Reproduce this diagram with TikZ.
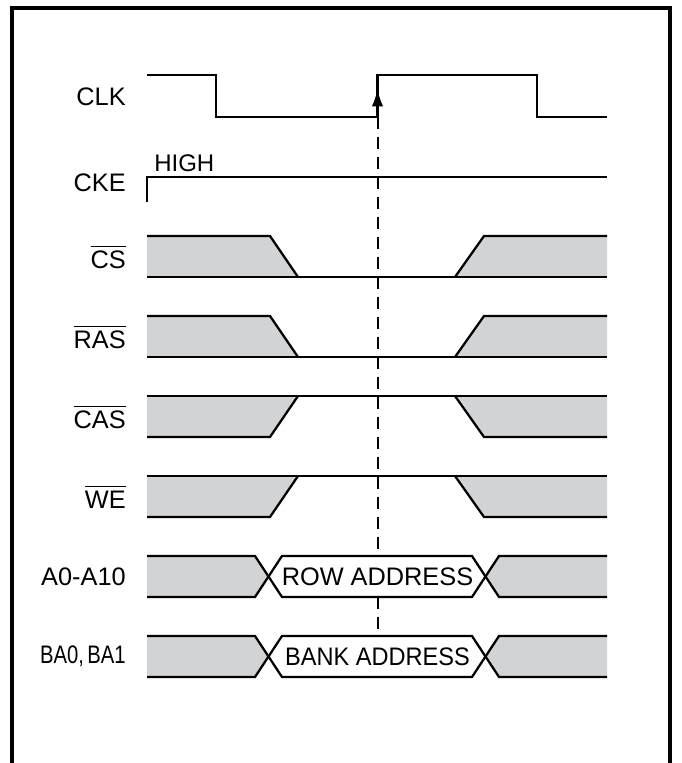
\documentclass[tikz,border=0pt]{standalone}
\usepackage{fontspec}
\setmainfont{Liberation Sans}
\usetikzlibrary{arrows.meta}
\definecolor{sig}{RGB}{210,211,213}
\newcommand{\ovl}[1]{\setbox0\hbox{#1}\rlap{\rule[\dimexpr\ht0+2.4pt\relax]{\wd0}{1.1pt}}\box0}
\begin{document}
\begin{tikzpicture}[x=0.75pt,y=-0.75pt,
  wave/.style={line width=1.7pt, line join=miter},
  gfill/.style={fill=sig},
  frame/.style={line width=2.3pt},
  lbl/.style={anchor=east, inner sep=0pt, font=\fontsize{19}{22}\selectfont},
  bustext/.style={inner sep=0pt, font=\fontsize{19}{22}\selectfont},
  guide/.style={line width=1.5pt, dash pattern=on 9pt off 6pt}]
\useasboundingbox (0,0) rectangle (681,763);
% frame (open at the bottom)
\draw[frame] (12,763) -- (12,8) -- (670,8) -- (670,763);

% dashed reference line with arrow
\coordinate (clkedge) at (377.5,117);
\coordinate (arrtip) at (377.5,89);
\coordinate (guideend) at (377.5,636);
\draw[guide] (clkedge) -- (guideend);

% CLK
\node[lbl] (clk) at (126,97) {CLK};
\draw[wave] (147,75) -- (216,75) -- (216,117) -- (377.5,117) -- (377.5,75) -- (537,75) -- (537,117) -- (607,117);
\draw[line width=1.6pt, -{Latex[length=13pt,width=8.5pt]}] (clkedge) -- (arrtip);

% CKE
\node[lbl] (cke) at (126,183) {CKE};
\draw[wave] (147,202) -- (147,177) -- (607,177);
\node[anchor=south west, inner sep=0pt, font=\fontsize{18}{20}\selectfont] (high) at (154,172) {HIGH};

% CS, RAS (active low)
\foreach \t/\n/\name in {236/cs/CS, 316/ras/RAS}{
  \pgfmathsetmacro{\b}{\t+41}
  \fill[gfill] (147,\t) -- (270,\t) -- (298,\b) -- (147,\b) -- cycle;
  \fill[gfill] (455,\b) -- (484,\t) -- (607,\t) -- (607,\b) -- cycle;
  \draw[wave] (147,\t) -- (270,\t) -- (298,\b);
  \draw[wave] (455,\b) -- (484,\t) -- (607,\t);
  \draw[wave] (147,\b) -- (607,\b);
  \node[lbl] (\n) at (126,\t+21) {\ovl{\name}};
}
% CAS, WE (high)
\foreach \t/\n/\name in {396/cas/CAS, 476/we/WE}{
  \pgfmathsetmacro{\b}{\t+41}
  \fill[gfill] (147,\t) -- (298,\t) -- (270,\b) -- (147,\b) -- cycle;
  \fill[gfill] (455,\t) -- (484,\b) -- (607,\b) -- (607,\t) -- cycle;
  \draw[wave] (147,\t) -- (607,\t);
  \draw[wave] (298,\t) -- (270,\b) -- (147,\b);
  \draw[wave] (455,\t) -- (484,\b) -- (607,\b);
  \node[lbl] (\n) at (126,\t+21) {\ovl{\name}};
}
% address buses
\foreach \t/\n/\name/\val in {556/addr/{A0-A10}/{ROW ADDRESS}, 636/bank/{\scalebox{0.8}[1]{BA0,\,BA1}}/{\scalebox{0.93}[1]{BANK ADDRESS}}}{
  \pgfmathsetmacro{\b}{\t+41}
  \pgfmathsetmacro{\m}{\t+20.5}
  \fill[gfill] (147,\t) -- (255,\t) -- (268.5,\m) -- (255,\b) -- (147,\b) -- cycle;
  \fill[gfill] (485.5,\m) -- (499,\t) -- (607,\t) -- (607,\b) -- (499,\b) -- cycle;
  \draw[wave] (147,\t) -- (255,\t) -- (268.5,\m) -- (255,\b) -- (147,\b);
  \draw[wave, fill=white] (268.5,\m) -- (282,\t) -- (472,\t) -- (485.5,\m) -- (472,\b) -- (282,\b) -- cycle;
  \draw[wave] (607,\t) -- (499,\t) -- (485.5,\m) -- (499,\b) -- (607,\b);
  \node[bustext] (\n val) at (377.5,\m) {\val};
  \node[lbl] (\n) at (126,\m) {\name};
}
\end{tikzpicture}
\end{document}
